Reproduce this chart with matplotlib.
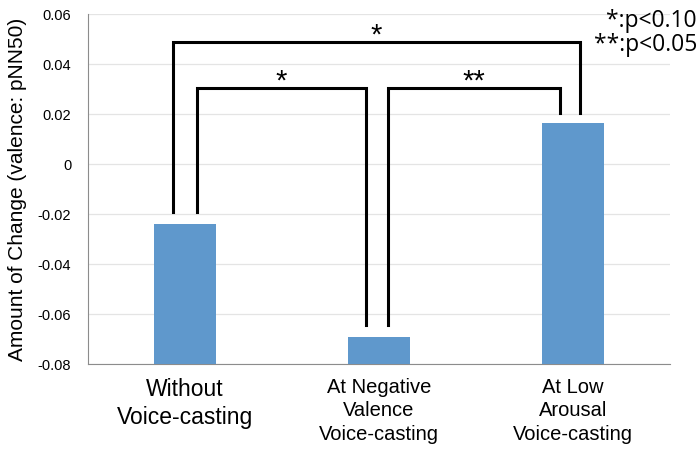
import matplotlib
matplotlib.use("Agg")
import matplotlib.pyplot as plt

# values
categories = ["Without\nVoice-casting", "At Negative\nValence\nVoice-casting", "At Low\nArousal\nVoice-casting"]
changes = [-0.024, -0.0692, 0.0165]
yticks = [-0.08, -0.06, -0.04, -0.02, 0, 0.02, 0.04, 0.06]
ytick_labels = ["-0.08", "-0.06", "-0.04", "-0.02", "0", "0.02", "0.04", "0.06"]
y_floor = -0.08  # bars start at the axis floor, Excel style

BAR_COLOR = "#5f98cc"

def draw_bracket(ax, x1, x2, y_top, y1_end, y2_end, label):
  ax.plot([x1, x1, x2, x2], [y1_end, y_top, y_top, y2_end],
          color="black", lw=2.2, solid_joinstyle="miter", zorder=4)
  ax.text((x1 + x2) / 2, y_top - 0.0008, label, ha="center", va="baseline",
          fontsize=21, family="Liberation Sans")

def main():
  fig = plt.figure(figsize=(6.99, 4.51), dpi=100)
  ax = fig.add_axes([88 / 699, 1 - 364 / 451, 582 / 699, 350 / 451])

  xs = range(len(categories))
  heights = [v - y_floor for v in changes]
  ax.bar(xs, heights, bottom=y_floor, width=0.315, color=BAR_COLOR, zorder=3)

  ax.set_xlim(-0.5, 2.5)
  ax.set_ylim(-0.08, 0.06)
  ax.set_yticks(yticks)
  ax.set_yticklabels(ytick_labels, fontsize=10.5, family="Liberation Sans")
  ax.set_xticks(list(xs))
  ax.set_xticklabels(categories, family="Liberation Sans", linespacing=1.3)
  for i, lbl in enumerate(ax.get_xticklabels()):
    lbl.set_fontsize(16.5 if i == 0 else 14.5)
  ax.tick_params(axis="both", length=0)
  ax.tick_params(axis="y", pad=12)
  ax.tick_params(axis="x", pad=10)

  ax.grid(axis="y", color="#e4e4e4", lw=0.9, zorder=0)
  for side in ["top", "right"]:
    ax.spines[side].set_visible(False)
  ax.spines["left"].set_color("#8c8c8c")
  ax.spines["bottom"].set_color("#8c8c8c")

  ax.set_ylabel("Amount of Change (valence: pNN50)", fontsize=15,
                family="Liberation Sans", labelpad=8)

  # brackets, legs stop a little above each bar
  ends = [v + 0.0048 if v < 0 else v + 0.004 for v in changes]
  draw_bracket(ax, 0 - 0.062, 2 + 0.036, 0.0488, ends[0], ends[2], "*")
  draw_bracket(ax, 0 + 0.062, 1 - 0.067, 0.0306, ends[0], ends[1], "*")
  draw_bracket(ax, 1 + 0.046, 2 - 0.067, 0.0306, ends[1], ends[2], "**")

  fig.text(697 / 699, 1 - 21 / 451, "*:p<0.10", ha="right", va="center",
           fontsize=16.5, family="Open Sans")
  fig.text(697 / 699, 1 - 45 / 451, "**:p<0.05", ha="right", va="center",
           fontsize=16.5, family="Open Sans")

  fig.savefig("out.png", dpi=100)

if __name__ == "__main__":
  main()
